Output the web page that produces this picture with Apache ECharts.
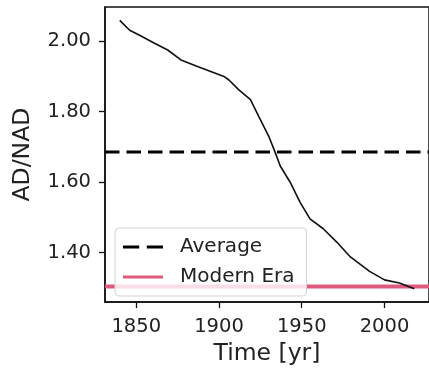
<!DOCTYPE html>
<html>
<head>
<meta charset="utf-8">
<script src="https://cdn.jsdelivr.net/npm/echarts@6/dist/echarts.min.js"></script>
<style>
  html, body { margin: 0; padding: 0; background: #ffffff; }
  #chart { width: 429px; height: 371px; }
</style>
</head>
<body>
<div id="chart"></div>
<script>
// AD/NAD ratio through time
const years = [1840, 1846, 1852, 1861, 1869, 1877, 1887, 1895, 1903, 1906, 1912, 1919, 1924,
               1930, 1934, 1937, 1943, 1949, 1955, 1963, 1971, 1979, 1991, 2000, 2009, 2018];
const ratio = [2.059, 2.031, 2.017, 1.994, 1.975, 1.947, 1.928, 1.914, 1.900, 1.890, 1.862, 1.834, 1.787,
               1.731, 1.684, 1.646, 1.600, 1.543, 1.496, 1.468, 1.431, 1.390, 1.347, 1.323, 1.314, 1.298];
const averageRatio = 1.686;
const modernEraRatio = 1.304;

const xTicks = [1850, 1900, 1950, 2000];
const yTicks = [1.40, 1.60, 1.80, 2.00];
const xRange = [1831.1, 2026.9];
const yRange = [1.260, 2.097];

const font = 'DejaVu Sans';
const ink = '#222222';
const pink = '#dd5a7c';

const chart = echarts.init(document.getElementById('chart'), null, { renderer: 'canvas' });

chart.setOption({
  animation: false,
  backgroundColor: '#ffffff',
  grid: {
    left: 105, top: 7, right: -4, bottom: 67,
    show: true, borderColor: '#111111', borderWidth: 1.5, backgroundColor: 'transparent'
  },
  xAxis: {
    type: 'value',
    min: xRange[0], max: xRange[1],
    name: 'Time [yr]',
    nameLocation: 'middle',
    nameGap: 33,
    nameTextStyle: { fontFamily: font, fontSize: 23.5, color: ink },
    splitLine: { show: false },
    axisLine: { show: true, onZero: false, lineStyle: { color: '#111111', width: 1.5 } },
    axisTick: { show: true, length: 6, lineStyle: { color: '#111111', width: 1.3 }, customValues: xTicks },
    axisLabel: {
      fontFamily: font, fontSize: 19.5, color: ink, margin: 15,
      customValues: xTicks, formatter: v => String(Math.round(v))
    }
  },
  yAxis: {
    type: 'value',
    min: yRange[0], max: yRange[1],
    name: 'AD/NAD',
    nameLocation: 'middle',
    nameRotate: 90,
    nameGap: 70,
    nameTextStyle: { fontFamily: font, fontSize: 23.5, color: ink },
    splitLine: { show: false },
    axisLine: { show: true, onZero: false, lineStyle: { color: '#111111', width: 1.5 } },
    axisTick: { show: true, length: 6, lineStyle: { color: '#111111', width: 1.3 }, customValues: yTicks },
    axisLabel: {
      fontFamily: font, fontSize: 19.5, color: ink, margin: 14,
      customValues: yTicks, formatter: v => v.toFixed(2)
    }
  },
  legend: {
    orient: 'vertical',
    left: 115, top: 228,
    z: 10,
    padding: [8, 12, 8, 8],
    itemGap: 8,
    itemWidth: 40,
    itemHeight: 4,
    backgroundColor: 'rgba(255,255,255,0.8)',
    borderColor: '#d4d4d4',
    borderWidth: 1,
    borderRadius: 4,
    textStyle: { fontFamily: font, fontSize: 20, color: ink, lineHeight: 22, padding: [0, 0, 0, 12] },
    data: [
      { name: 'Average', icon: 'path://M0,0h15v3h-15zM22,0h15v3h-15z', itemStyle: { color: '#000000' } },
      { name: 'Modern Era', icon: 'path://M0,0h40v3h-40z', itemStyle: { color: pink } }
    ]
  },
  series: [
    {
      name: 'Modern Era',
      type: 'line',
      symbol: 'none',
      silent: true,
      z: 1,
      lineStyle: { color: pink, width: 4 },
      itemStyle: { color: pink },
      data: [[xRange[0], modernEraRatio], [xRange[1], modernEraRatio]]
    },
    {
      name: 'Average',
      type: 'line',
      symbol: 'none',
      silent: true,
      z: 2,
      lineStyle: { color: '#000000', width: 3, type: [14.5, 7] },
      itemStyle: { color: '#000000' },
      data: [[xRange[0], averageRatio], [xRange[1], averageRatio]]
    },
    {
      name: 'AD/NAD',
      type: 'line',
      symbol: 'none',
      z: 3,
      lineStyle: { color: '#111111', width: 1.6 },
      data: years.map((y, i) => [y, ratio[i]])
    }
  ]
});
</script>
</body>
</html>
